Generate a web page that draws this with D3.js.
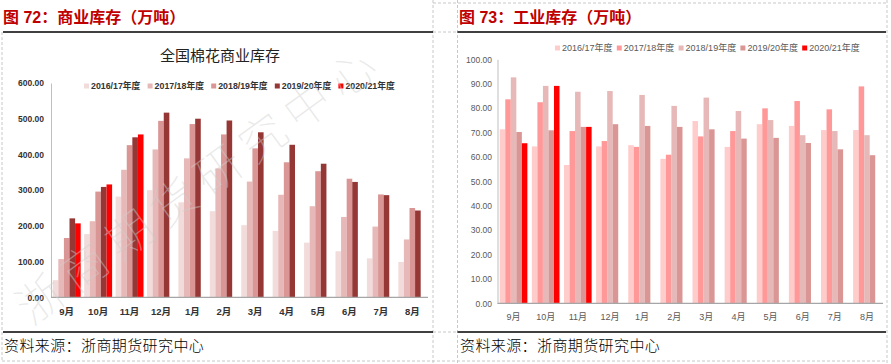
<!DOCTYPE html>
<html>
<head>
<meta charset="utf-8">
<script src="https://cdn.jsdelivr.net/npm/d3@7/dist/d3.min.js"></script>
<style>
    body { margin: 0; background: #fff; }
    svg { display: block; font-family: "Liberation Sans", Arial, "Noto Sans CJK SC", sans-serif; }
</style>
</head>
<body>
<div id="page"></div>
<script>

// categories
var months = ["9月", "10月", "11月", "12月", "1月", "2月", "3月", "4月", "5月", "6月", "7月", "8月"];
var seasons = ["2016/17年度", "2017/18年度", "2018/19年度", "2019/20年度", "2020/21年度"];

// commercial stock (万吨)
var commercial1617 = [48, 177, 282, 300, 266, 241, 202, 186, 153, 129, 109, 99];
var commercial1718 = [107, 213, 357, 414, 389, 361, 324, 287, 255, 225, 198, 162];
var commercial1819 = [166, 296, 426, 494, 485, 456, 417, 378, 353, 332, 288, 250];
var commercial1920 = [221, 309, 448, 517, 500, 495, 462, 427, 374, 323, 286, 243];
var commercial2021 = [207, 316, 456, null, null, null, null, null, null, null, null, null];
var commercialTicks = [0, 100, 200, 300, 400, 500, 600];

// industrial stock (万吨)
var industrial1617 = [71.3, 64.3, 56.7, 64.3, 64.8, 59.2, 74.7, 64.1, 73.4, 72.7, 71.0, 71.0];
var industrial1718 = [83.6, 82.4, 70.6, 66.5, 64.1, 60.9, 68.4, 70.6, 79.9, 82.9, 79.5, 88.9];
var industrial1819 = [92.6, 89.1, 86.7, 87.0, 85.4, 80.9, 84.3, 78.8, 75.1, 68.9, 70.6, 68.9];
var industrial1920 = [70.2, 70.9, 72.3, 73.4, 72.7, 72.3, 71.3, 67.5, 67.8, 65.7, 63.1, 60.7];
var industrial2021 = [65.6, 89.1, 72.3, null, null, null, null, null, null, null, null, null];
var industrialTicks = [0, 10, 20, 30, 40, 50, 60, 70, 80, 90, 100];


GroupedBarChart = function(_svg, _series, _opts){
    this.svg = _svg;
    this.series = _series;
    this.opts = _opts;

    this.initVis();
}

/*
 * Scales, axes, legend
 */
GroupedBarChart.prototype.initVis = function(){
    var vis = this;
    var o = vis.opts;

    vis.g = vis.svg.append("g");

    vis.x0 = d3.scaleBand()
        .domain(months)
        .range([o.left, o.right])
        .paddingInner(o.padInner)
        .paddingOuter(o.padInner / 2);

    vis.x1 = d3.scaleBand()
        .domain(d3.range(seasons.length))
        .range([0, vis.x0.bandwidth()]);

    vis.y = d3.scaleLinear()
        .domain([0, o.max])
        .range([o.bottom, o.top]);

    vis.color = d3.scaleOrdinal()
        .domain(d3.range(seasons.length))
        .range(o.colors);

    // y axis
    var yAxis = d3.axisLeft(vis.y)
        .tickValues(o.ticks)
        .tickSize(0)
        .tickPadding(o.left - o.labelX)
        .tickFormat(d3.format(".2f"));

    vis.yG = vis.g.append("g")
        .attr("transform", "translate(" + o.left + ",0)")
        .call(yAxis);
    vis.yG.select(".domain").attr("stroke", "#bfbfbf").attr("stroke-width", 1);
    vis.yG.selectAll("text")
        .attr("font-size", o.tickSize)
        .attr("font-weight", o.bold ? "bold" : "normal")
        .attr("fill", o.tickColor);

    vis.wrangleData();
};


GroupedBarChart.prototype.wrangleData = function(){
    var vis = this;

    vis.displayData = [];
    vis.series.forEach(function(s, i) {
        s.forEach(function(v, j) {
            if (v != null) {
                vis.displayData.push({ s: i, month: months[j], value: v });
            }
        });
    });

    vis.updateVis();
};


GroupedBarChart.prototype.updateVis = function(){
    var vis = this;
    var o = vis.opts;

    vis.g.selectAll("rect.bar")
        .data(vis.displayData)
        .enter()
        .append("rect")
        .attr("class", "bar")
        .attr("x", function(d) { return vis.x0(d.month) + vis.x1(d.s); })
        .attr("width", vis.x1.bandwidth())
        .attr("y", function(d) { return vis.y(d.value); })
        .attr("height", function(d) { return vis.y(0) - vis.y(d.value); })
        .attr("fill", function(d) { return vis.color(d.s); });

    // x axis (drawn after bars so the base line sits on top)
    var xAxis = d3.axisBottom(vis.x0)
        .tickSize(0)
        .tickPadding(o.xPad);

    vis.xG = vis.g.append("g")
        .attr("transform", "translate(0," + o.bottom + ")")
        .call(xAxis);
    vis.xG.select(".domain")
        .attr("d", "M" + o.left + ",0H" + o.right)
        .attr("stroke", "#a6a6a6")
        .attr("stroke-width", 1.2);
    vis.xG.selectAll("text")
        .attr("font-size", o.catSize)
        .attr("font-weight", o.bold ? "bold" : "normal")
        .attr("font-family", "'Liberation Sans', 'Noto Sans CJK SC', sans-serif")
        .attr("fill", o.tickColor);

    // legend
    var leg = vis.g.selectAll("g.leg")
        .data(seasons)
        .enter()
        .append("g")
        .attr("class", "leg")
        .attr("transform", function(d, i) {
            return "translate(" + (o.legendX + i * o.legendStep) + "," + o.legendY + ")";
        });

    leg.append("rect")
        .attr("x", 0)
        .attr("y", -2.5)
        .attr("width", 5)
        .attr("height", 5)
        .attr("fill", function(d, i) { return vis.color(i); });

    leg.append("text")
        .attr("x", 7)
        .attr("dy", "0.35em")
        .attr("font-size", o.legendSize)
        .attr("font-weight", o.bold ? "bold" : "normal")
        .attr("fill", o.legendColor)
        .text(function(d) { return d; });
};


var svg = d3.select("#page").append("svg")
    .attr("width", 891)
    .attr("height", 364);

// table frame
var dashed = [
    [2, 32, 2, 361], [433, 0, 433, 364], [457.5, 0, 457.5, 364], [887, 0, 887, 364],
    [433, 3, 887, 3], [433, 32, 457.5, 32], [433, 332, 457.5, 332], [2, 361, 887, 361]
];
svg.selectAll("line.dash")
    .data(dashed)
    .enter()
    .append("line")
    .attr("class", "dash")
    .attr("x1", function(d) { return d[0]; })
    .attr("y1", function(d) { return d[1]; })
    .attr("x2", function(d) { return d[2]; })
    .attr("y2", function(d) { return d[3]; })
    .attr("stroke", "#c8c8c8")
    .attr("stroke-dasharray", "3,2");

var solid = [[3, 32, 433, 32], [3, 332, 433, 332], [457.5, 32, 886, 32], [457.5, 332, 886, 332]];
svg.selectAll("line.solid")
    .data(solid)
    .enter()
    .append("line")
    .attr("class", "solid")
    .attr("x1", function(d) { return d[0]; })
    .attr("y1", function(d) { return d[1]; })
    .attr("x2", function(d) { return d[2]; })
    .attr("y2", function(d) { return d[3]; })
    .attr("stroke", "#000")
    .attr("stroke-width", 1.3);

// headers + sources
var headers = [["图 72：商业库存（万吨）", 3], ["图 73：工业库存（万吨）", 459]];
headers.forEach(function(h) {
    svg.append("text")
        .attr("x", h[1])
        .attr("y", 23)
        .attr("font-size", 16)
        .attr("font-weight", "bold")
        .attr("font-family", "'Liberation Sans', 'Noto Sans CJK SC', sans-serif")
        .attr("fill", "#c00000")
        .text(h[0]);

    svg.append("text")
        .attr("x", h[1] + 1)
        .attr("y", 351)
        .attr("font-size", 15)
        .attr("font-family", "'Noto Sans CJK SC', sans-serif")
        .attr("font-weight", 300)
        .attr("letter-spacing", 0.4)
        .attr("fill", "#000")
        .text("资料来源：浙商期货研究中心");
});

// left chart title
svg.append("text")
    .attr("x", 220)
    .attr("y", 61)
    .attr("text-anchor", "middle")
    .attr("font-size", 15)
    .attr("font-family", "'Noto Sans CJK SC', sans-serif")
    .attr("fill", "#222")
    .text("全国棉花商业库存");

var commercialChart = new GroupedBarChart(svg,
    [commercial1617, commercial1718, commercial1819, commercial1920, commercial2021],
    {
        left: 51, right: 428, top: 83, bottom: 297.3, max: 600,
        padInner: 0.11, ticks: commercialTicks, labelX: 44,
        colors: ["#f2dcdb", "#e6b8b7", "#d99694", "#953735", "#ff0000"],
        bold: true, tickSize: 8.5, catSize: 9.5, tickColor: "#333", xPad: 11,
        legendX: 84, legendStep: 63.6, legendY: 86, legendSize: 8.8, legendColor: "#333"
    });

var industrialChart = new GroupedBarChart(svg,
    [industrial1617, industrial1718, industrial1819, industrial1920, industrial2021],
    {
        left: 497.5, right: 883, top: 59.3, bottom: 303.3, max: 100,
        padInner: 0.14, ticks: industrialTicks, labelX: 492,
        colors: ["#ffcccc", "#ff9999", "#e6b9b8", "#da9694", "#ff0000"],
        bold: false, tickSize: 8.5, catSize: 9, tickColor: "#595959", xPad: 10,
        legendX: 555, legendStep: 61.8, legendY: 48, legendSize: 9, legendColor: "#595959"
    });

// watermark across the left chart
svg.append("text")
    .attr("transform", "translate(200,184) rotate(-36)")
    .attr("text-anchor", "middle")
    .attr("dy", "0.35em")
    .attr("font-size", 46)
    .attr("letter-spacing", 9)
    .attr("font-family", "'Noto Sans CJK SC', sans-serif")
    .attr("font-weight", 100)
    .attr("fill", "#cfcfcf")
    .attr("opacity", 0.45)
    .text("浙商期货研究中心");

</script>
</body>
</html>
